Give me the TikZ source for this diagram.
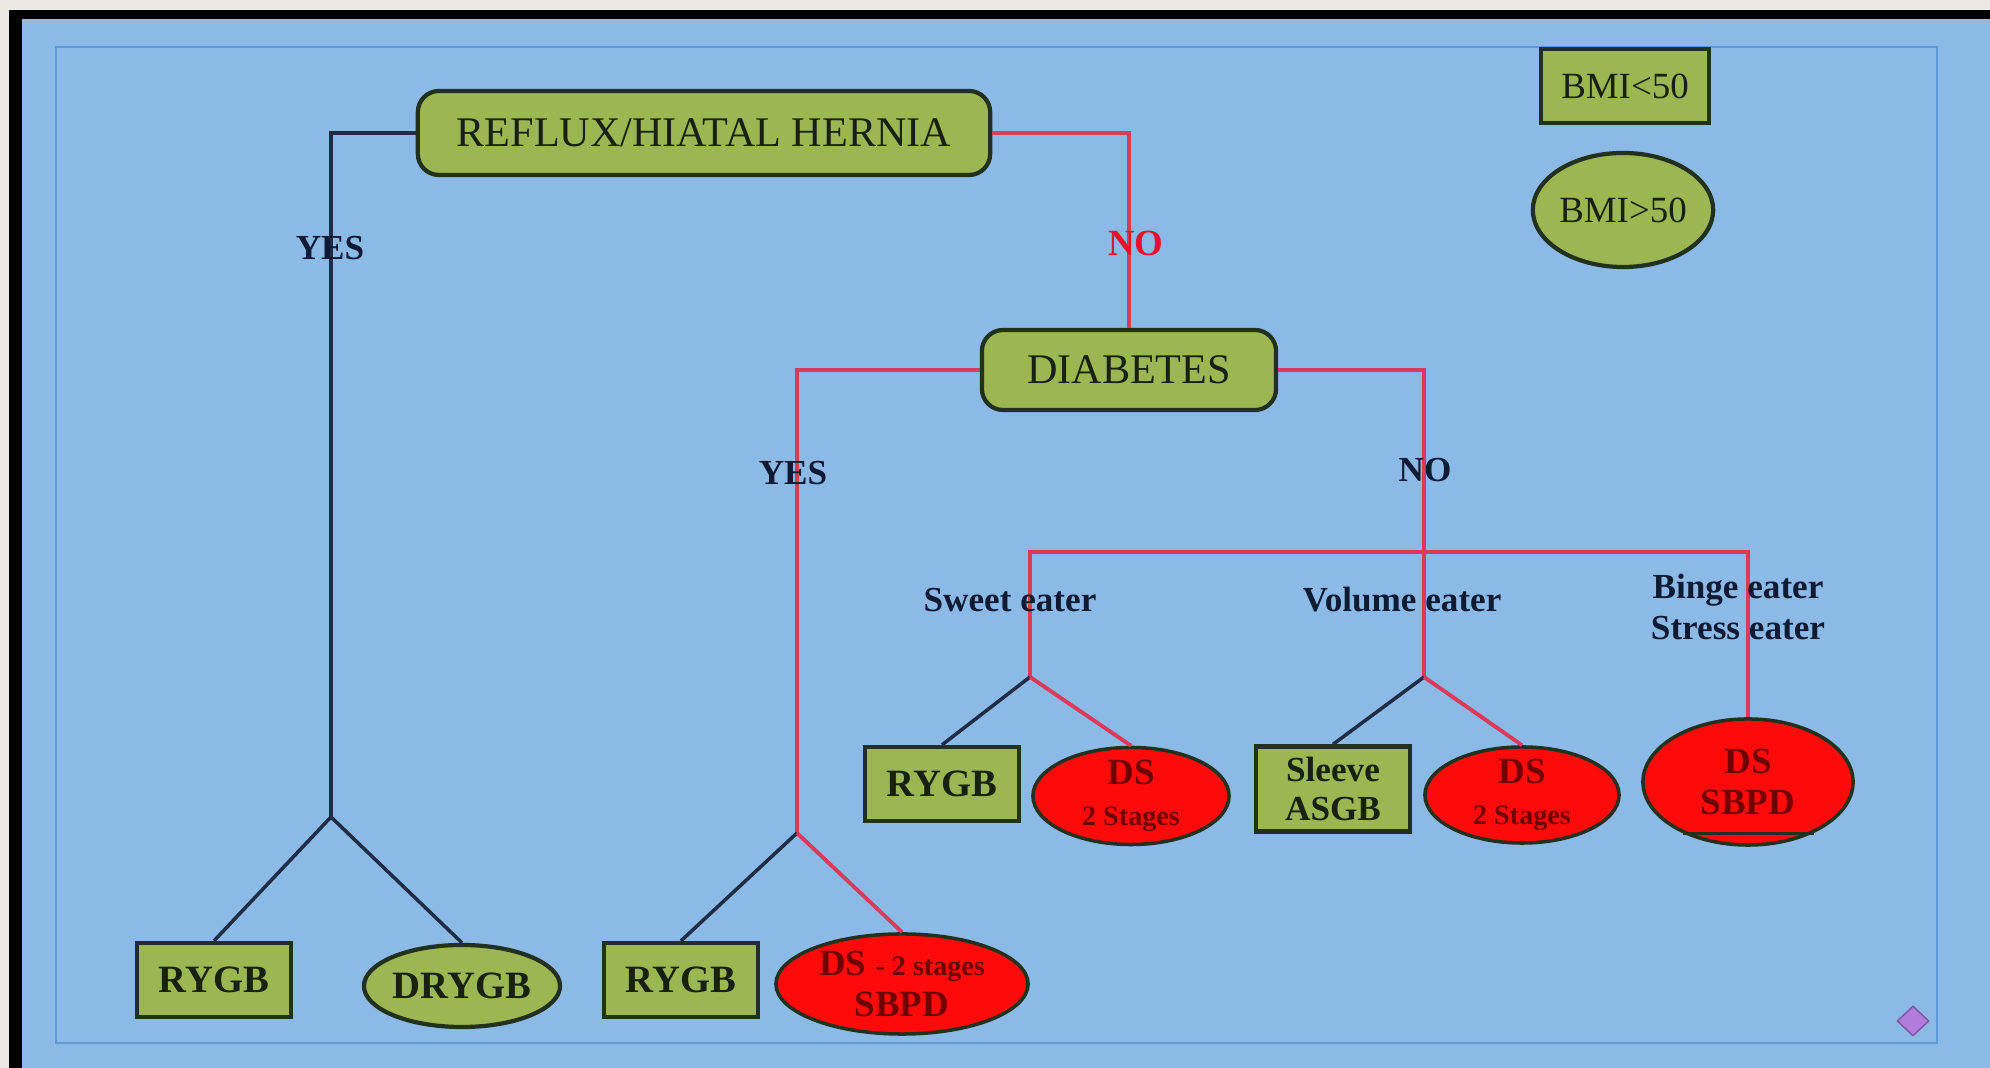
\documentclass[tikz,border=0pt]{standalone}
\usepackage{fontspec}
\setmainfont{Liberation Serif}
\usetikzlibrary{shapes.geometric}

\begin{document}
\begin{tikzpicture}[x=0.01cm,y=-0.01cm,
  greenbox/.style={rectangle,draw=nodeline,line width=1.2pt,fill=mossgreen,text=inktext,inner sep=0pt},
  roundbox/.style={greenbox,rounded corners=6pt,font=\fontsize{12}{14}\selectfont},
  rygbbox/.style={greenbox,minimum width=1.54cm,minimum height=0.74cm,font=\bfseries\fontsize{11}{12}\selectfont},
  greenoval/.style={ellipse,draw=nodeline,line width=1.2pt,fill=mossgreen,text=inktext,inner sep=0pt},
  redoval/.style={ellipse,draw=nodeline,line width=1pt,fill=ovalred,text=darkred,inner sep=-1pt,align=center,font=\bfseries\fontsize{10.5}{11.5}\selectfont},
  darkline/.style={draw=navyline,line width=1pt},
  redline/.style={draw=pinkred,line width=1.1pt},
  lbl/.style={text=navytext,font=\bfseries\fontsize{10}{11.7}\selectfont,align=center}]
\definecolor{paper}{HTML}{EDE8E3}
\definecolor{screenblue}{HTML}{8CBAE6}
\definecolor{framelinecol}{HTML}{5E98D6}
\definecolor{mossgreen}{HTML}{9AB752}
\definecolor{nodeline}{HTML}{22301E}
\definecolor{inktext}{HTML}{18200F}
\definecolor{ovalred}{HTML}{FF0A0A}
\definecolor{darkred}{HTML}{6E0000}
\definecolor{navyline}{HTML}{1E2D45}
\definecolor{navytext}{HTML}{0F1A33}
\definecolor{pinkred}{HTML}{DC3A5A}
\definecolor{nored}{HTML}{E8102A}
\definecolor{gem}{HTML}{B27CDD}
\useasboundingbox (0,0) rectangle (1990,1068);
\fill[paper] (0,0) rectangle (1990,1068);
\fill[black] (9,10) rectangle (1990,1068);
\fill[screenblue] (22,19) rectangle (1990,1068);
\draw[framelinecol,line width=0.7pt] (56,47) rectangle (1937,1043);

% legend
\node[greenbox,minimum width=1.68cm,minimum height=0.74cm,font=\fontsize{10.5}{12}\selectfont] (bmilow) at (1625,86) {BMI<50};
\node[greenoval,minimum width=1.76cm,minimum height=1.14cm,font=\fontsize{10.5}{12}\selectfont] (bmihigh) at (1623,210) {BMI>50};

% questions
\node[roundbox,minimum width=5.72cm,minimum height=0.84cm] (reflux) at (704,133) {REFLUX/HIATAL HERNIA};
\node[roundbox,minimum width=2.94cm,minimum height=0.80cm] (diab) at (1129,370) {DIABETES};

% answers
\foreach \nm/\xx/\yy in {rygbA/214/980,rygbB/681/980,rygbC/942/784}
  {\node[rygbbox] (\nm) at (\xx,\yy) {RYGB};}
\node[rygbbox,minimum height=0.85cm,align=center,font=\bfseries\fontsize{10}{11}\selectfont] (sleeve) at (1333,789) {Sleeve\\ASGB};
\node[greenoval,minimum width=1.96cm,minimum height=0.82cm,font=\bfseries\fontsize{11}{12}\selectfont] (drygb) at (462,986) {DRYGB};
\node[redoval,minimum width=2.52cm,minimum height=1.0cm] (dsA) at (902,984) {DS {\fontsize{8}{9}\selectfont - 2 stages}\\SBPD};
\node[redoval,minimum width=1.96cm,minimum height=0.97cm] (dsB) at (1131,796) {DS\\{\fontsize{8}{9}\selectfont 2 Stages}};
\node[redoval,minimum width=1.94cm,minimum height=0.96cm] (dsD) at (1522,795) {DS\\{\fontsize{8}{9}\selectfont 2 Stages}};
\node[redoval,minimum width=2.10cm,minimum height=1.26cm] (dsC) at (1748,782) {DS\\SBPD};
\draw[nodeline,line width=0.8pt] (dsC.218) -- (dsC.-38);

% connectors
\coordinate (jleft) at (331,817);
\coordinate (jmid) at (797,833);
\coordinate (jvol) at (1424,677);
\coordinate (jsweet) at (1030,677);
\coordinate (barL) at (1030,552);
\draw[darkline] (reflux.west) -| (jleft);
\draw[darkline] (jleft) -- (rygbA.north);
\draw[darkline] (jleft) -- (drygb.north);
\draw[redline] (reflux.east) -| (diab.north);
\draw[redline] (diab.west) -| (jmid);
\draw[darkline] (jmid) -- (rygbB.north);
\draw[redline] (jmid) -- (dsA.north);
\draw[redline] (diab.east) -| (jvol);
\draw[redline] (jsweet) -- (barL) -| (dsC.north);
\draw[darkline] (jsweet) -- (rygbC.north);
\draw[redline] (jsweet) -- (dsB.north);
\draw[darkline] (jvol) -- (sleeve.north);
\draw[redline] (jvol) -- (dsD.north);

% labels
\node[lbl] (yesleft) at (330,248) {YES};
\node[lbl,text=nored,font=\bfseries\fontsize{10.5}{12}\selectfont] (nomid) at (1136,243) {NO};
\node[lbl] (yesmid) at (793,473) {YES};
\node[lbl] (noright) at (1425,470) {NO};
\node[lbl] (sweet) at (1010,600) {Sweet eater};
\node[lbl] (volume) at (1402,600) {Volume eater};
\node[lbl] (binge) at (1738,607) {Binge eater\\Stress eater};

\node[diamond,fill=gem,draw=gem!70!black,line width=0.4pt,minimum width=0.32cm,minimum height=0.30cm,inner sep=0pt] (gemmark) at (1913,1021) {};
\end{tikzpicture}
\end{document}
